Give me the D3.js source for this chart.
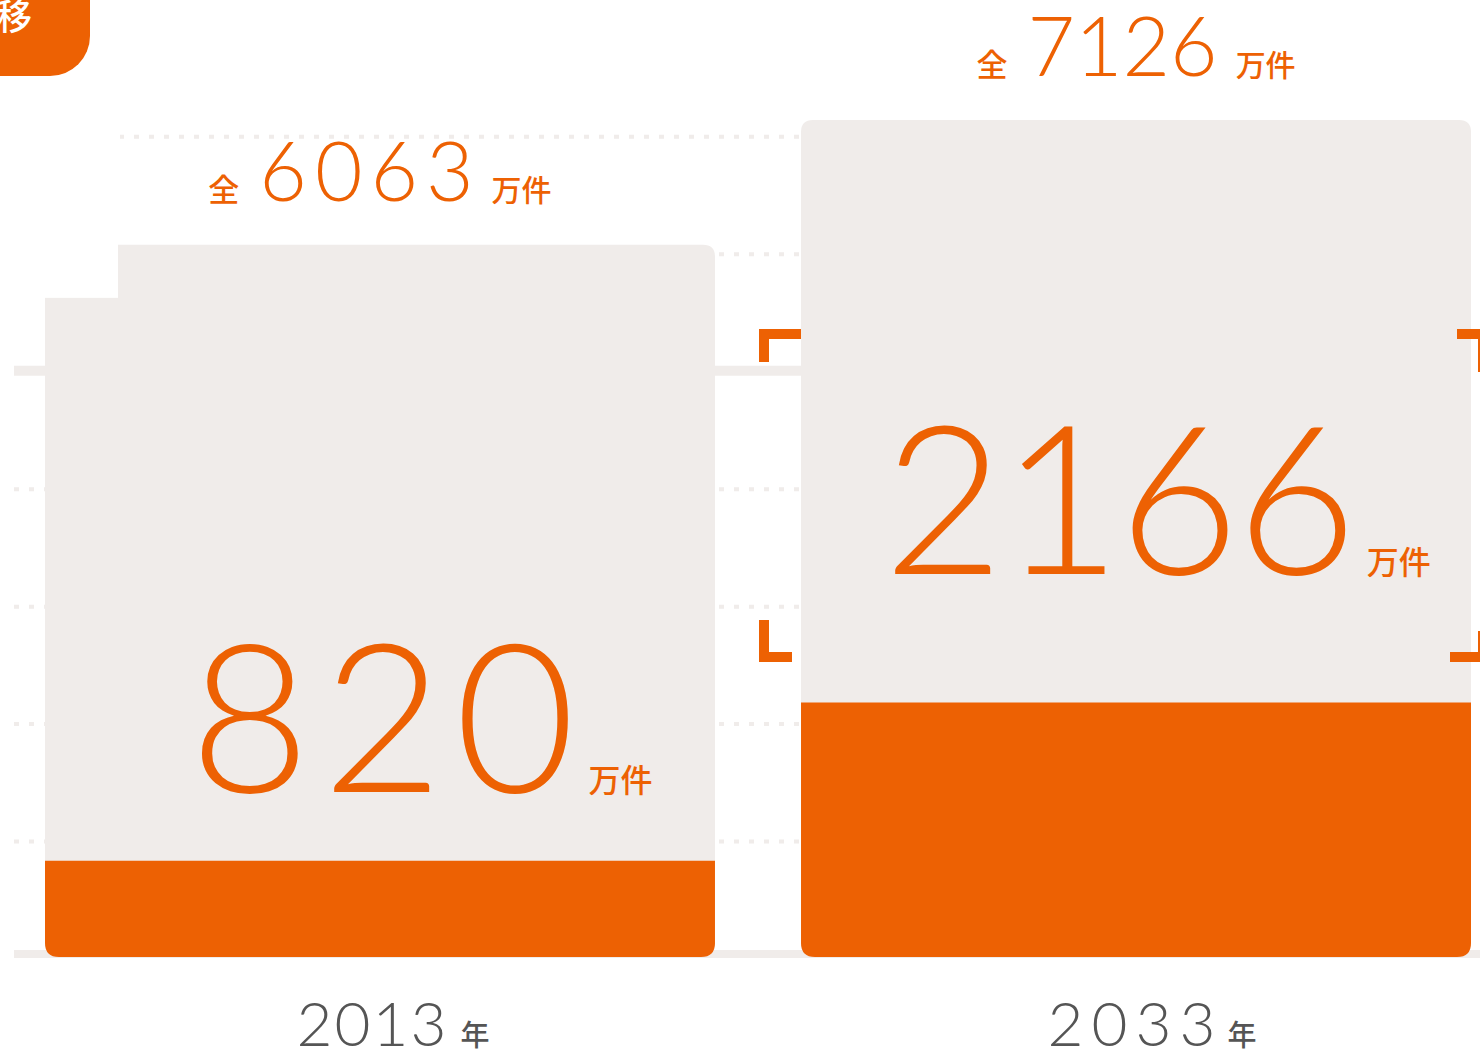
<!DOCTYPE html>
<html lang="ja">
<head>
  <meta charset="UTF-8">
  <title>空き家数の推移</title>
  <script src="https://d3js.org/d3.v7.min.js"></script>
  <style>
    body { margin: 0; background: #fff; }
    .num { font-family: Lato, "Open Sans", sans-serif; font-weight: 300; }
    .cjk { font-family: "Noto Sans CJK JP", sans-serif; font-weight: 500; }
  </style>
</head>
<body>
  <div id="chart-area"></div>
  <script>
    // data
    const years = ["2013", "2033"];
    const totalHouses = [6063, 7126];     // 全住宅数 (万件)
    const vacantHouses = [820, 2166];     // 空き家数 (万件)
    const gridTicks = [1000, 2000, 3000, 4000, 5000, 6000, 7000];
    const unitLabel = "万件";
    const yearSuffix = "年";

    const W = 1480, H = 1051;
    const orange = "#ed6103", barGray = "#f0ecea", lineGray = "#f0ecea";

    // per-bar text tuning (the original font has proportional digits)
    const totSpacing = [8, 0], totUnitDx = [10, 18];
    const vacSpacing = [12, -3], vacUnitDx = [1, 13], vacShift = [41, 21], vacOffset = [69, 129];
    const yrSpacing = [2, 8], yrUnitDx = [12, 4], yrShift = [13, 16];

    const svg = d3.select("#chart-area").append("svg")
      .attr("width", W).attr("height", H);

    const x = d3.scaleBand().domain(years).range([45, 1471]).paddingInner(0.1138).paddingOuter(0);
    const y = d3.scaleLinear().domain([0, 7126]).range([957, 120]);
    const cx = d => x(d) + x.bandwidth() / 2;

    // grid
    const grid = svg.append("g");
    grid.selectAll("line.dot")
      .data(gridTicks.filter(t => t !== 5000))
      .enter().append("line")
      .attr("x1", 14).attr("x2", 1471)
      .attr("y1", d => y(d) + 2).attr("y2", d => y(d) + 2)
      .attr("stroke", lineGray).attr("stroke-width", 4)
      .attr("stroke-dasharray", "5 10");
    grid.append("line")
      .attr("x1", 14).attr("x2", 1471).attr("y1", y(5000) + 1).attr("y2", y(5000) + 1)
      .attr("stroke", lineGray).attr("stroke-width", 10);
    grid.append("line")
      .attr("x1", 14).attr("x2", 1480).attr("y1", y(0) - 3).attr("y2", y(0) - 3)
      .attr("stroke", lineGray).attr("stroke-width", 8);
    // white area upper-left
    svg.append("rect").attr("x", 0).attr("y", 100).attr("width", 120).attr("height", 199).attr("fill", "#fff");

    function roundedBar(x0, y0, w, h, rt, rb) {
      return `M${x0},${y0 + rt} Q${x0},${y0} ${x0 + rt},${y0} L${x0 + w - rt},${y0} Q${x0 + w},${y0} ${x0 + w},${y0 + rt}` +
        ` L${x0 + w},${y0 + h - rb} Q${x0 + w},${y0 + h} ${x0 + w - rb},${y0 + h} L${x0 + rb},${y0 + h} Q${x0},${y0 + h} ${x0},${y0 + h - rb} Z`;
    }

    const bars = svg.selectAll("g.bar").data(years).enter().append("g").attr("class", "bar");

    // total (gray)
    bars.append("path")
      .attr("fill", barGray)
      .attr("d", (d, i) => roundedBar(x(d), y(totalHouses[i]), x.bandwidth(), y(0) - y(totalHouses[i]), 12, 14));
    // notch for 2013 bar
    svg.append("rect")
      .attr("x", x(years[0]) - 2).attr("y", y(totalHouses[0]) - 3)
      .attr("width", 75).attr("height", 56).attr("fill", "#fff");

    // vacant (orange)
    bars.append("path")
      .attr("fill", orange)
      .attr("d", (d, i) => roundedBar(x(d), y(vacantHouses[i]), x.bandwidth(), y(0) - y(vacantHouses[i]), 0, 14));

    // brackets around 2033 value
    const bx0 = 759, bx1 = 1488, by0 = 329, by1 = 662, t = 10, arm = 38;
    const br = svg.append("g").attr("fill", orange);
    br.append("path").attr("d", `M${bx0},${by0 + arm - 5} V${by0} H${bx0 + arm + 4} V${by0 + t} H${bx0 + t} V${by0 + arm - 5} Z`);
    br.append("path").attr("d", `M${bx0},${by1 - arm - 4} V${by1} H${bx0 + arm - 5} V${by1 - t} H${bx0 + t} V${by1 - arm - 4} Z`);
    br.append("path").attr("d", `M${bx1},${by0 + arm + 5} V${by0} H${bx1 - arm + 7} V${by0 + t} H${bx1 - t} V${by0 + arm + 5} Z`);
    br.append("path").attr("d", `M${bx1},${by1 - arm + 7} V${by1} H${bx1 - arm} V${by1 - t} H${bx1 - t} V${by1 - arm + 7} Z`);

    // total labels
    const totLab = svg.selectAll("text.total").data(years).enter().append("text")
      .attr("class", "total")
      .attr("x", d => cx(d))
      .attr("y", (d, i) => y(totalHouses[i]) - 44)
      .attr("text-anchor", "middle")
      .attr("fill", orange);
    totLab.append("tspan").attr("class", "cjk").attr("font-size", 31).text("全");
    totLab.append("tspan").attr("class", "num").attr("font-size", 82).attr("dx", 20)
      .attr("letter-spacing", (d, i) => totSpacing[i]).text((d, i) => totalHouses[i]);
    totLab.append("tspan").attr("class", "cjk").attr("font-size", 30)
      .attr("dx", (d, i) => totUnitDx[i]).text(unitLabel);

    // vacant labels
    const vacLab = svg.selectAll("text.vacant").data(years).enter().append("text")
      .attr("class", "vacant")
      .attr("x", (d, i) => cx(d) + vacShift[i])
      .attr("y", (d, i) => y(vacantHouses[i]) - vacOffset[i])
      .attr("text-anchor", "middle")
      .attr("fill", orange);
    vacLab.append("tspan").attr("class", "num").attr("font-size", 208)
      .attr("letter-spacing", (d, i) => vacSpacing[i]).text((d, i) => vacantHouses[i]);
    vacLab.append("tspan").attr("class", "cjk").attr("font-size", 32)
      .attr("dx", (d, i) => vacUnitDx[i]).text(unitLabel);

    // year labels
    const yrLab = svg.selectAll("text.year").data(years).enter().append("text")
      .attr("x", (d, i) => cx(d) + yrShift[i])
      .attr("y", 1046)
      .attr("text-anchor", "middle")
      .attr("fill", "#555");
    yrLab.append("tspan").attr("class", "num").attr("font-size", 62)
      .attr("letter-spacing", (d, i) => yrSpacing[i]).text(d => d);
    yrLab.append("tspan").attr("class", "cjk").attr("font-size", 29).attr("font-weight", 700)
      .attr("dx", (d, i) => yrUnitDx[i]).text(yearSuffix);

    // title pill (cut off at top-left)
    svg.append("rect").attr("x", -400).attr("y", -40).attr("width", 490).attr("height", 116).attr("rx", 40).attr("fill", orange);
    svg.append("text").attr("class", "cjk").attr("x", 32).attr("y", 30)
      .attr("text-anchor", "end").attr("font-size", 36).attr("font-weight", 700)
      .attr("fill", "#fff").text("空き家数の推移");
  </script>
</body>
</html>
